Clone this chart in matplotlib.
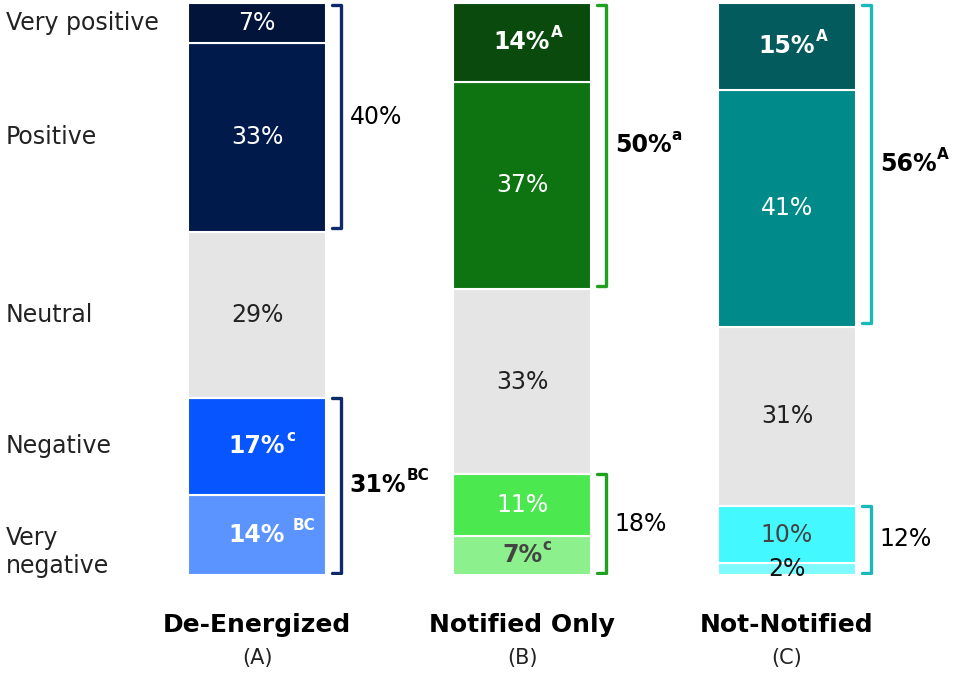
import matplotlib
matplotlib.use("Agg")
import matplotlib.pyplot as plt
from matplotlib.transforms import blended_transform_factory

# bars, left to right
categories = ["De-Energized", "Notified Only", "Not-Notified"]
group_codes = ["(A)", "(B)", "(C)"]
# stack order, bottom to top
levels = ["Very\nnegative", "Negative", "Neutral", "Positive", "Very positive"]

very_negative = [14, 7, 2]
negative = [17, 11, 10]
neutral = [29, 33, 31]
positive = [33, 37, 41]
very_positive = [7, 14, 15]

very_negative_sig = ["BC", "c", ""]
negative_sig = ["c", "", ""]
neutral_sig = ["", "", ""]
positive_sig = ["", "", ""]
very_positive_sig = ["", "A", "A"]

net_positive = [40, 50, 56]
net_positive_sig = ["", "a", "A"]
net_negative = [31, 18, 12]
net_negative_sig = ["BC", "", ""]

series = [very_negative, negative, neutral, positive, very_positive]
series_sig = [very_negative_sig, negative_sig, neutral_sig, positive_sig, very_positive_sig]

bar_colors = [
    ["#5b93ff", "#0655ff", "#e5e5e5", "#001a4b", "#03143a"],
    ["#8cf08c", "#4ce84f", "#e5e5e5", "#0e7412", "#0a4a0c"],
    ["#7ffbff", "#44f8ff", "#e5e5e5", "#008a8a", "#045b5e"],
]
label_colors = [
    ["white", "white", "#222222", "white", "white"],
    ["#444444", "white", "#222222", "white", "white"],
    ["#111111", "#444444", "#222222", "white", "white"],
]
bracket_colors = ["#0d2a6b", "#1fa01f", "#1ab8b8"]

plt.rcParams['font.family'] = ['DejaVu Sans']

fig = plt.figure(figsize=(9.54, 6.73), dpi=100)
ax = fig.add_axes([0, 98 / 673, 1, 572 / 673])
ax.axis('off')
ax.set_xlim(-0.97, 2.63)
ax.set_ylim(0, 100)

width = 0.52
fs = 17


def add_sup(txt, sup, color, size=11, dx=0.5):
    if sup:
        ax.annotate(sup, xy=(1, 0.6), xycoords=txt, xytext=(dx, 0),
                    textcoords='offset points', ha='left', va='bottom',
                    fontsize=size, fontweight='bold', color=color)


def bracket(x, y0, y1, color, tick=0.035):
    ax.plot([x - tick, x, x, x - tick], [y1, y1, y0, y0], color=color, lw=2.4,
            solid_joinstyle='round', solid_capstyle='round')


bottoms_by_bar = []
for i in range(len(categories)):
    total = sum(s[i] for s in series)
    bottom = 0
    bounds = []
    for j, s in enumerate(series):
        h = s[i] / total * 100
        ax.bar(i, h, width, bottom=bottom, color=bar_colors[i][j],
               edgecolor='white', linewidth=1.5)
        sig = series_sig[j][i]
        weight = 'bold' if sig else 'normal'
        t = ax.text(i, bottom + h / 2, f"{s[i]}%", ha='center', va='center',
                    fontsize=fs, fontweight=weight, color=label_colors[i][j])
        add_sup(t, sig, label_colors[i][j], dx=5 if sig == "BC" else 0.5)
        bounds.append((bottom, bottom + h))
        bottom += h
    bottoms_by_bar.append(bounds)

    bx = i + 0.317
    col = bracket_colors[i]
    # net positive bracket
    y0, y1 = bounds[3][0] + 0.6, 99.7
    bracket(bx, y0, y1, col)
    sig = net_positive_sig[i]
    t = ax.text(i + 0.35, (y0 + y1) / 2, f"{net_positive[i]}%", ha='left',
                va='center', fontsize=fs, fontweight='bold' if sig else 'normal',
                color='black')
    add_sup(t, sig, 'black', dx=0)
    # net negative bracket
    y0, y1 = 0.3, bounds[1][1]
    bracket(bx, y0, y1, col)
    sig = net_negative_sig[i]
    t = ax.text(i + 0.35, (y0 + y1) / 2, f"{net_negative[i]}%", ha='left',
                va='center', fontsize=fs, fontweight='bold' if sig else 'normal',
                color='black')
    add_sup(t, sig, 'black', dx=0)

# row labels beside first bar
lab_tr = blended_transform_factory(fig.transFigure, ax.transData)
for j, lab in enumerate(levels):
    lo, hi = bottoms_by_bar[0][j]
    y = (lo + hi) / 2 - (3 if "\n" in lab else 0)
    ax.text(6 / 954, y, lab, transform=lab_tr, ha='left', va='center',
            fontsize=fs, color='#222222', linespacing=1.2)

# category names under bars
cat_tr = blended_transform_factory(ax.transData, fig.transFigure)
for i, (name, code) in enumerate(zip(categories, group_codes)):
    ax.text(i, 1 - 625 / 673, name, transform=cat_tr, ha='center', va='center',
            fontsize=18, fontweight='bold', color='black')
    ax.text(i, 1 - 658 / 673, code, transform=cat_tr, ha='center', va='center',
            fontsize=15, color='#222222')

fig.savefig("out.png", dpi=100)
